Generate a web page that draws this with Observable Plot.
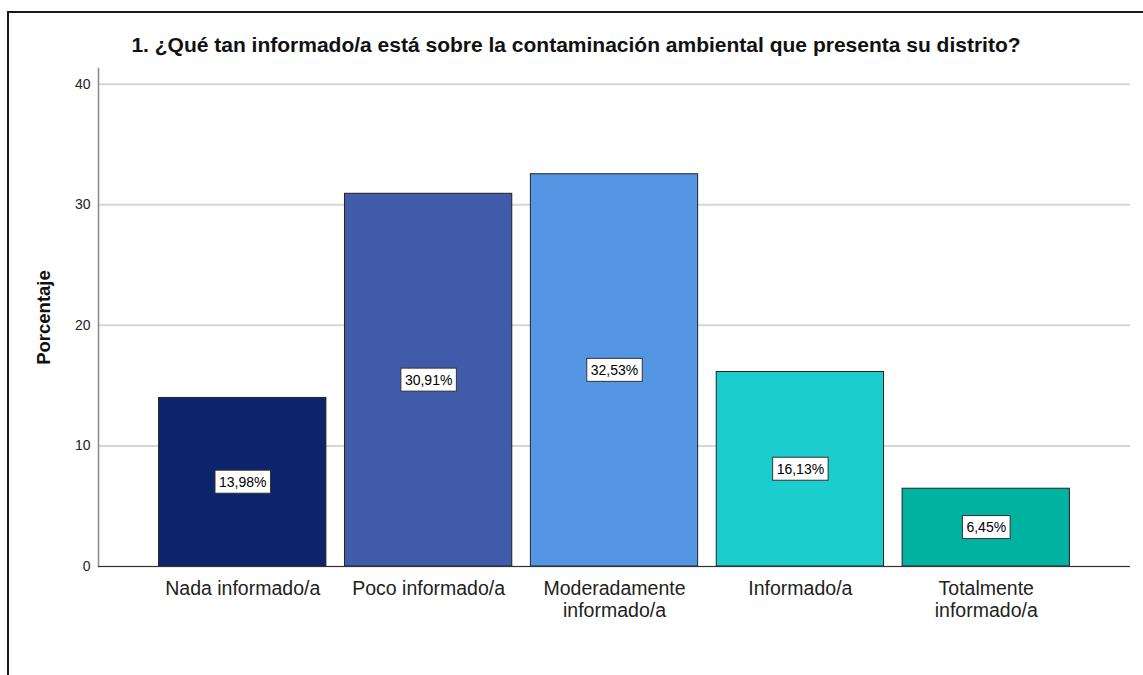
<!DOCTYPE html>
<html><head><meta charset="utf-8">
<script src="https://cdn.jsdelivr.net/npm/d3@7"></script>
<script src="https://cdn.jsdelivr.net/npm/@observablehq/plot@0.6"></script>
<style>
html,body{margin:0;padding:0;background:#fff;overflow:hidden;}
#wrap{position:relative;width:1143px;height:675px;overflow:hidden;background:#fff;font-family:"Liberation Sans",Arial,sans-serif;}
#border{position:absolute;z-index:3;left:7px;top:11px;width:1300px;height:900px;border-left:2px solid #1a1a1a;border-top:2px solid #1a1a1a;pointer-events:none;}
#title{position:relative;padding-top:35px;height:25px;line-height:20px;font-size:21px;font-weight:bold;color:#111;width:1152px;text-align:center;white-space:nowrap;}
#chart{position:relative;}
#chart svg{display:block;}
</style></head>
<body><div id="wrap"><div id="border"></div><div id="title"></div><div id="chart"></div></div>
<script>
const title = "1. ¿Qué tan informado/a está sobre la contaminación ambiental que presenta su distrito?";
const categories = ["Nada informado/a", "Poco informado/a", "Moderadamente informado/a", "Informado/a", "Totalmente informado/a"];
const tickLabels = ["Nada informado/a", "Poco informado/a", "Moderadamente\ninformado/a", "Informado/a", "Totalmente\ninformado/a"];
const values = [13.98, 30.91, 32.53, 16.13, 6.45];
const colors = ["#0b246b", "#3f5ba9", "#5495e4", "#1ccdcd", "#00b3a0"];
const yTicks = [0, 10, 20, 30, 40];
const yLabel = ["Porcentaje"];

document.getElementById("title").textContent = title;

const data = categories.map((c, i) => ({cat: c, value: values[i], label: values[i].toFixed(2).replace(".", ",") + "%"}));
const tickMap = new Map(categories.map((c, i) => [c, tickLabels[i]]));

const plot = Plot.plot({
  width: 1143,
  height: 615,
  marginTop: 8,
  marginBottom: 109,
  marginLeft: 98,
  marginRight: 13,
  style: {fontFamily: '"Liberation Sans", Arial, sans-serif', background: "transparent", color: "#222"},
  x: {domain: categories, paddingInner: 0.1, paddingOuter: 0.326, round: false, axis: null},
  y: {domain: [0, 41.3], axis: null},
  color: {domain: categories, range: colors},
  marks: [
    Plot.gridY(yTicks, {stroke: "#d6d6d6", strokeOpacity: 1, strokeWidth: 2}),
    Plot.frame({anchor: "left", stroke: "#8a8a8a", strokeWidth: 1.5}),
    Plot.barY(data, {x: "cat", y: "value", fill: "cat", stroke: "#222", strokeWidth: 1}),
    Plot.ruleY([0], {stroke: "#333", strokeWidth: 1.2}),
    Plot.axisY(yTicks, {tickSize: 0, tickPadding: 8, fontSize: 14, fill: "#222", label: null}),
    Plot.axisX({tickSize: 0, tickPadding: 13, fontSize: 19.5, lineHeight: 1.13, fill: "#222", label: null, tickFormat: d => tickMap.get(d)}),
    Plot.text(yLabel, {frameAnchor: "left", textAnchor: "middle", rotate: -90, dx: -54, fontSize: 18.5, fontWeight: "bold", fill: "#111"}),
    Plot.text(data, {x: "cat", y: d => d.value / 2, text: "label", fontSize: 14, fill: "#000"})
  ]
});
document.getElementById("chart").appendChild(plot);

// white boxes behind the value labels (last text mark)
const svgNS = "http://www.w3.org/2000/svg";
const textGroups = plot.querySelectorAll('g[aria-label="text"]');
const valueGroup = textGroups[textGroups.length - 1];
valueGroup.querySelectorAll("text").forEach(t => {
  const bb = t.getBBox();
  const r = document.createElementNS(svgNS, "rect");
  const tr = t.getAttribute("transform");
  if (tr) r.setAttribute("transform", tr);
  r.setAttribute("x", bb.x - 4);
  r.setAttribute("y", bb.y - 3.5);
  r.setAttribute("width", bb.width + 8);
  r.setAttribute("height", bb.height + 7);
  r.setAttribute("fill", "#fff");
  r.setAttribute("stroke", "#333");
  r.setAttribute("stroke-width", "1");
  t.parentNode.insertBefore(r, t);
});
</script>
</body></html>
